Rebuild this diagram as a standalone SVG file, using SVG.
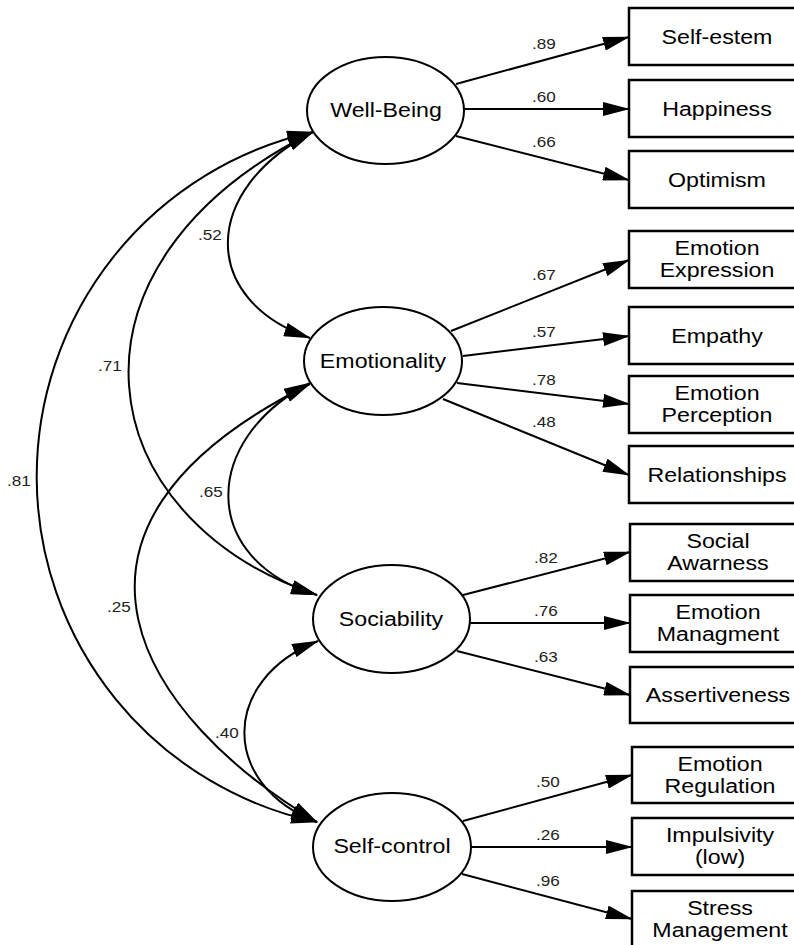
<svg xmlns="http://www.w3.org/2000/svg" width="794" height="945" viewBox="0 0 794 945">
<style>
.ln{fill:none;stroke:#000;stroke-width:2;marker-end:url(#ah)}
.cv{fill:none;stroke:#000;stroke-width:2;marker-start:url(#ah);marker-end:url(#ah)}
.el{fill:#fff;stroke:#000;stroke-width:2}
.bx{fill:#fff;stroke:#000;stroke-width:2.5}
.t{font-family:"Liberation Sans",Arial,sans-serif;font-size:20px;fill:#000;text-anchor:middle}
.c{font-family:"Liberation Sans",Arial,sans-serif;font-size:14.5px;fill:#222;text-anchor:middle}
</style>
<defs>
<marker id="ah" markerUnits="userSpaceOnUse" markerWidth="27" markerHeight="14" refX="26" refY="7" orient="auto-start-reverse" viewBox="0 0 27 14">
<path d="M0,0 L27,7 L0,14 z" fill="#000"/>
</marker>
</defs>
<rect width="794" height="945" fill="#fff"/>
<g id="connectors">
<path class="ln" d="M456,84 L629,37"/>
<path class="ln" d="M464,109 L629,109"/>
<path class="ln" d="M456,136 L629,180"/>
<path class="ln" d="M451,331 L629,260"/>
<path class="ln" d="M463,356 L629,336"/>
<path class="ln" d="M457,383 L629,404"/>
<path class="ln" d="M443,399 L629,475"/>
<path class="ln" d="M463,595 L630,552"/>
<path class="ln" d="M470,623 L630,623"/>
<path class="ln" d="M457,651 L630,695"/>
<path class="ln" d="M463,821 L632,775"/>
<path class="ln" d="M471,847 L632,847"/>
<path class="ln" d="M462,874 L632,919"/>
<path class="cv" d="M313,132 C200,190 200,300 310,338"/>
<path class="cv" d="M313,132 C45,266 89,519 317,595"/>
<path class="cv" d="M313,132 A353,353 0 0 0 317,822"/>
<path class="cv" d="M310,383 C200,440 200,560 317,595"/>
<path class="cv" d="M310,384 C15,531 145,720 317,822"/>
<path class="cv" d="M318,641 C220,680 220,785 317,822"/>
<text class="c" transform="translate(544,49) scale(1.18,1)">.89</text>
<text class="c" transform="translate(544,102) scale(1.18,1)">.60</text>
<text class="c" transform="translate(544,147) scale(1.18,1)">.66</text>
<text class="c" transform="translate(544,280) scale(1.18,1)">.67</text>
<text class="c" transform="translate(544,337) scale(1.18,1)">.57</text>
<text class="c" transform="translate(544,385) scale(1.18,1)">.78</text>
<text class="c" transform="translate(544,427) scale(1.18,1)">.48</text>
<text class="c" transform="translate(546,563) scale(1.18,1)">.82</text>
<text class="c" transform="translate(546,616) scale(1.18,1)">.76</text>
<text class="c" transform="translate(546,662) scale(1.18,1)">.63</text>
<text class="c" transform="translate(548,787) scale(1.18,1)">.50</text>
<text class="c" transform="translate(548,840) scale(1.18,1)">.26</text>
<text class="c" transform="translate(548,886) scale(1.18,1)">.96</text>
<text class="c" transform="translate(210,240) scale(1.18,1)">.52</text>
<text class="c" transform="translate(110,371) scale(1.18,1)">.71</text>
<text class="c" transform="translate(19,486) scale(1.18,1)">.81</text>
<text class="c" transform="translate(211,497) scale(1.18,1)">.65</text>
<text class="c" transform="translate(119,612) scale(1.18,1)">.25</text>
<text class="c" transform="translate(227,738) scale(1.18,1)">.40</text>
</g>
<g id="wellbeing"><ellipse class="el" cx="385.5" cy="110.5" rx="78.5" ry="53.5"/><text class="t" transform="translate(386,117) scale(1.16,1)">Well-Being</text></g>
<g id="emotionality"><ellipse class="el" cx="383" cy="361" rx="79" ry="54"/><text class="t" transform="translate(383,368) scale(1.16,1)">Emotionality</text></g>
<g id="sociability"><ellipse class="el" cx="391.5" cy="619" rx="78.5" ry="54"/><text class="t" transform="translate(391,626) scale(1.16,1)">Sociability</text></g>
<g id="selfcontrol"><ellipse class="el" cx="392" cy="847" rx="79" ry="54"/><text class="t" transform="translate(392,853) scale(1.16,1)">Self-control</text></g>
<g id="selfestem"><rect class="bx" x="629" y="8" width="176" height="57"/><text class="t" transform="translate(717,44) scale(1.16,1)">Self-estem</text></g>
<g id="happiness"><rect class="bx" x="629" y="80" width="176" height="57"/><text class="t" transform="translate(717,116) scale(1.16,1)">Happiness</text></g>
<g id="optimism"><rect class="bx" x="629" y="151" width="176" height="57"/><text class="t" transform="translate(717,187) scale(1.16,1)">Optimism</text></g>
<g id="emoexpression"><rect class="bx" x="629" y="231" width="176" height="57"/><text class="t" transform="translate(717,255) scale(1.16,1)"><tspan x="0">Emotion</tspan><tspan x="0" dy="22">Expression</tspan></text></g>
<g id="empathy"><rect class="bx" x="629" y="307" width="176" height="57"/><text class="t" transform="translate(717,343) scale(1.16,1)">Empathy</text></g>
<g id="emoperception"><rect class="bx" x="629" y="376" width="176" height="57"/><text class="t" transform="translate(717,400) scale(1.16,1)"><tspan x="0">Emotion</tspan><tspan x="0" dy="22">Perception</tspan></text></g>
<g id="relationships"><rect class="bx" x="629" y="446" width="176" height="57"/><text class="t" transform="translate(717,482) scale(1.16,1)">Relationships</text></g>
<g id="socialawarness"><rect class="bx" x="630" y="524" width="176" height="57"/><text class="t" transform="translate(718,548) scale(1.16,1)"><tspan x="0">Social</tspan><tspan x="0" dy="22">Awarness</tspan></text></g>
<g id="emomanagment"><rect class="bx" x="630" y="595" width="176" height="57"/><text class="t" transform="translate(718,619) scale(1.16,1)"><tspan x="0">Emotion</tspan><tspan x="0" dy="22">Managment</tspan></text></g>
<g id="assertiveness"><rect class="bx" x="630" y="667" width="176" height="56"/><text class="t" transform="translate(718,702) scale(1.16,1)">Assertiveness</text></g>
<g id="emoregulation"><rect class="bx" x="632" y="747" width="176" height="56"/><text class="t" transform="translate(720,771) scale(1.16,1)"><tspan x="0">Emotion</tspan><tspan x="0" dy="22">Regulation</tspan></text></g>
<g id="impulsivity"><rect class="bx" x="632" y="818" width="176" height="57"/><text class="t" transform="translate(720,842) scale(1.16,1)"><tspan x="0">Impulsivity</tspan><tspan x="0" dy="22">(low)</tspan></text></g>
<g id="stress"><rect class="bx" x="632" y="891" width="176" height="70"/><text class="t" transform="translate(720,915) scale(1.16,1)"><tspan x="0">Stress</tspan><tspan x="0" dy="22">Management</tspan></text></g>
</svg>
